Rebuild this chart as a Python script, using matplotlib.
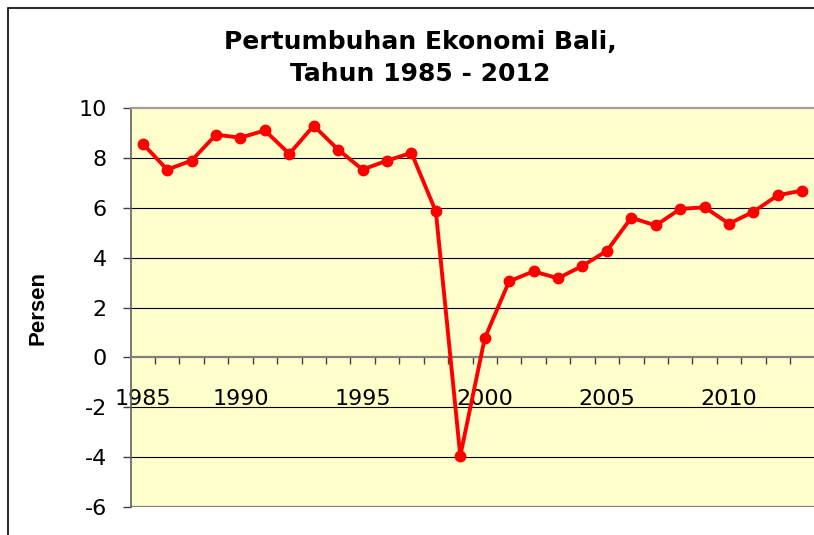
import numpy as np
import matplotlib.pyplot as plt
from matplotlib.patches import Rectangle

# data: pertumbuhan ekonomi Bali (persen), 1985 - 2012
tahun = list(range(1985, 2013))
pertumbuhan = [8.57, 7.53, 7.89, 8.93, 8.81, 9.10, 8.16, 9.29, 8.33, 7.53,
               7.89, 8.20, 5.85, -3.95, 0.76, 3.05, 3.45, 3.17, 3.67, 4.27,
               5.60, 5.29, 5.95, 6.02, 5.36, 5.84, 6.50, 6.69]

# label sumbu x seperti pada grafik asli
label_posisi = [0, 4, 9, 14, 19, 24]
label_teks = ['1985', '1990', '1995', '2000', '2005', '2010']
y_ticks = [-6, -4, -2, 0, 2, 4, 6, 8, 10]

W, H = 814, 535
fig = plt.figure(figsize=(W / 100, H / 100), dpi=100)

# bingkai chart
fig.add_artist(Rectangle((8 / W, -0.1), 1.2, 1.1 - 8 / H,
                         transform=fig.transFigure, fill=False,
                         edgecolor='black', linewidth=1.2))

ax = fig.add_axes([130.5 / W, 28 / H, 684 / W, 399 / H])
ax.set_facecolor('#FFFFCC')

x = np.arange(len(tahun))
ax.plot(x, pertumbuhan, color='#FF0000', linewidth=2.8, marker='o',
        markersize=7.5, zorder=5, clip_on=False)

ax.set_xlim(-0.5, len(tahun) - 0.5)
ax.set_ylim(-6, 10)
ax.set_yticks(y_ticks)
ax.set_yticklabels([str(v) for v in y_ticks], fontsize=16, family='DejaVu Sans')
for v in y_ticks:
    if v not in (-6, 0, 10):
        ax.axhline(v, color='black', linewidth=0.8, zorder=1)

# sumbu x pada y = 0
ax.spines['bottom'].set_position(('data', 0))
ax.spines['bottom'].set_color('#808080')
ax.spines['bottom'].set_linewidth(1.6)
ax.axhline(-6, color='#808080', linewidth=1.6, zorder=1)
ax.spines['top'].set_color('#A0A0A0')
ax.spines['top'].set_linewidth(1.6)
ax.spines['left'].set_color('#606060')
ax.spines['left'].set_linewidth(1.2)
ax.spines['right'].set_visible(False)

ax.set_xticks(label_posisi)
ax.set_xticklabels(label_teks, fontsize=16, family='DejaVu Sans')
ax.set_xticks(np.arange(0.5, len(tahun) - 0.5, 1), minor=True)
ax.tick_params(axis='x', which='major', length=0, pad=23)
ax.tick_params(axis='x', which='minor', length=5, width=1, color='#404040', direction='out')
ax.tick_params(axis='y', length=6, width=1, color='#404040', pad=11)

fig.text(38 / W, 1 - 308 / H, 'Persen', rotation=90, fontsize=16,
         fontweight='bold', family='Liberation Sans', ha='center', va='center')
fig.text(420 / W, 1 - 58 / H, 'Pertumbuhan Ekonomi Bali,\nTahun 1985 - 2012',
         fontsize=18, fontweight='bold', family='DejaVu Sans', ha='center',
         va='center', linespacing=1.45)

fig.savefig('out.png', dpi=100)
